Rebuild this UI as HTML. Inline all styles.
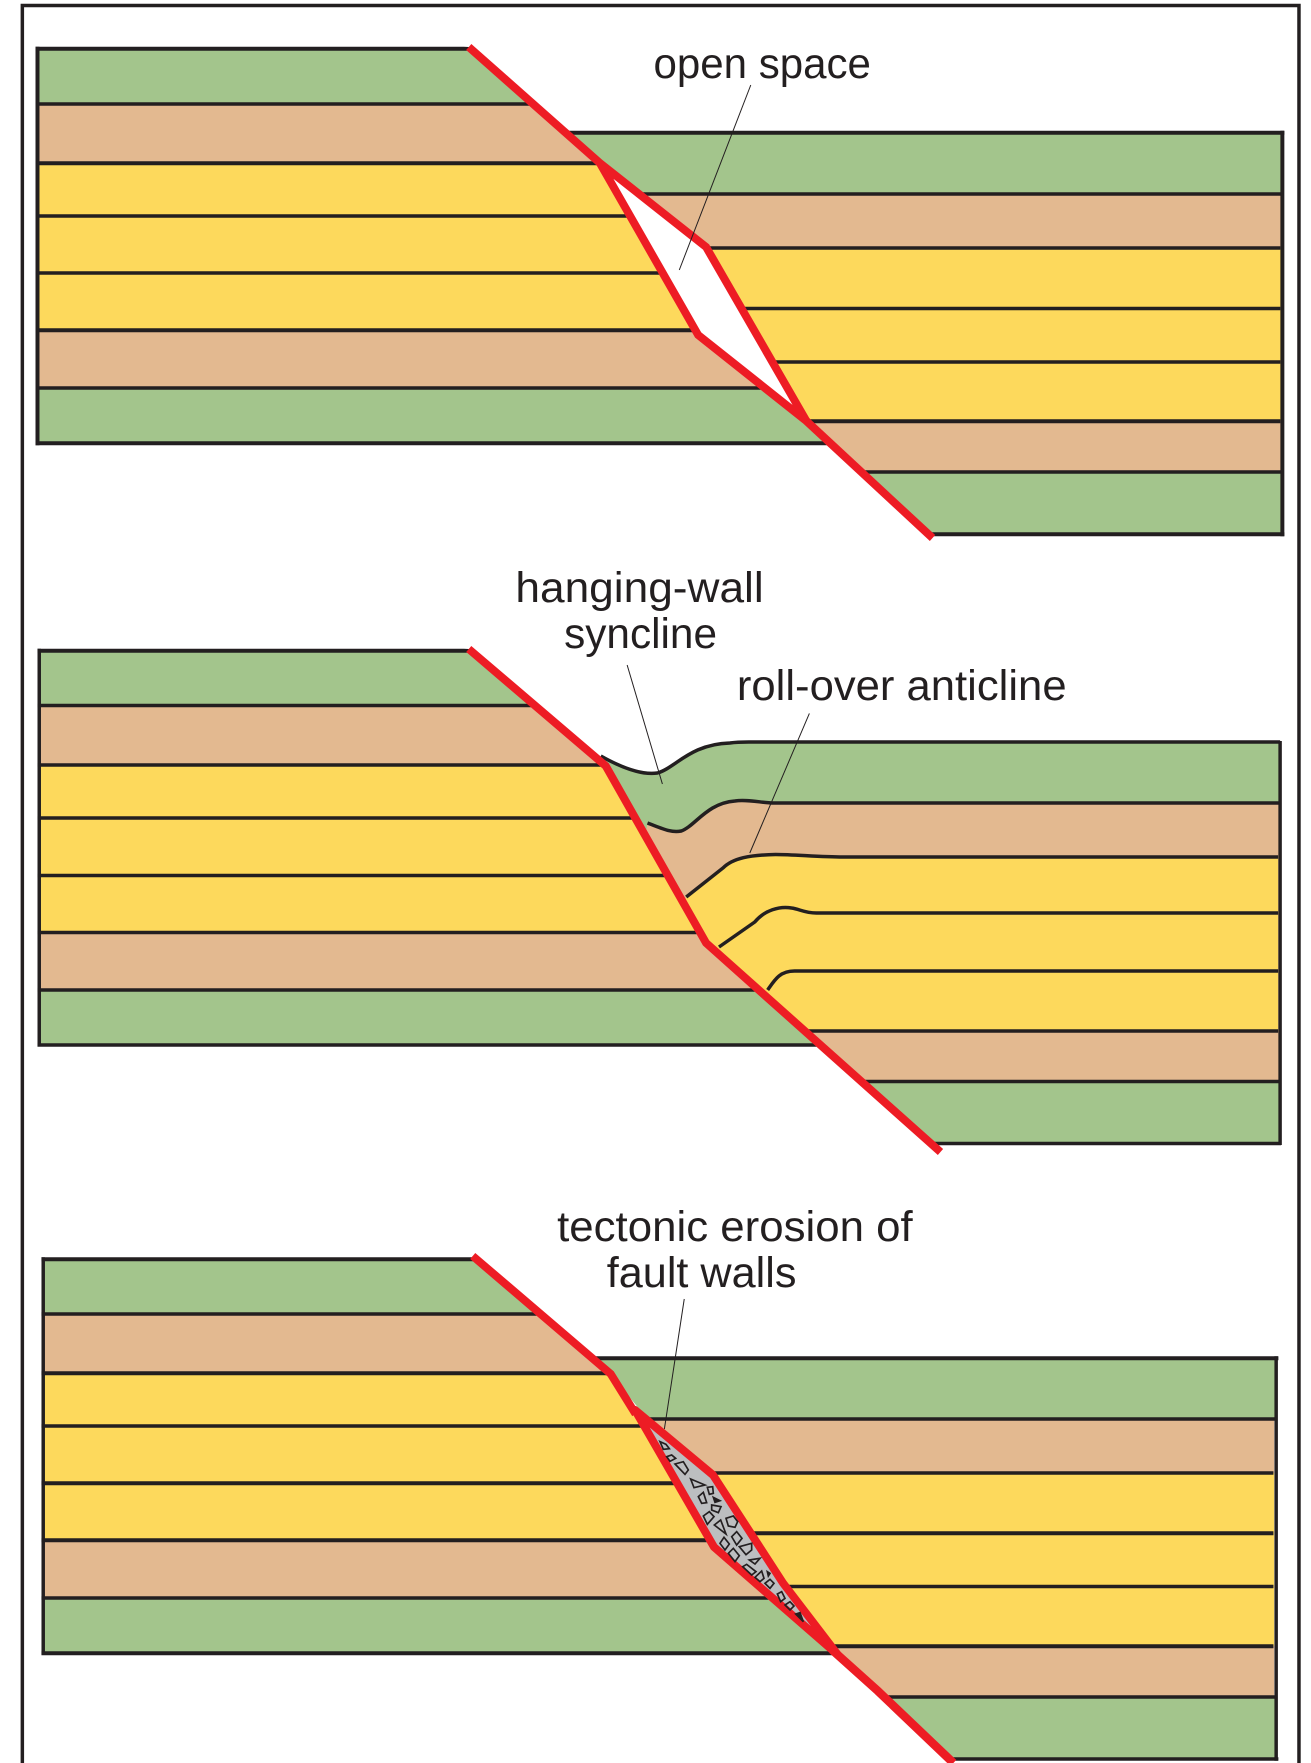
<!DOCTYPE html>
<html>
<head>
<meta charset="utf-8">
<style>
html,body{margin:0;padding:0;background:#fff}
svg{display:block}
text{font-family:"Liberation Sans",sans-serif;font-size:43px;fill:#231F20}
</style>
</head>
<body>
<svg width="1311" height="1763" viewBox="0 0 1311 1763" xmlns="http://www.w3.org/2000/svg">
<defs>
<clipPath id="l1"><polygon points="0,0 472,47 604,163 703,335 812,421 939,538 0,600"/></clipPath>
<clipPath id="r1"><polygon points="472,47 604,163 711,247 812,421 939,538 1311,538 1311,0"/></clipPath>
<clipPath id="l2"><polygon points="0,600 472,649 610,766 711,943 947,1153 0,1160"/></clipPath>
<clipPath id="r2"><polygon points="472,649 610,766 711,943 947,1153 1311,1153 1311,600"/></clipPath>
<clipPath id="l3"><polygon points="0,1200 476,1256 615,1374 639,1410 719,1547 839,1650 960,1762 0,1763"/></clipPath>
<clipPath id="r3"><polygon points="476,1256 615,1374 642,1407 718,1475 788,1583 840,1650 884,1691 960,1763 1311,1763 1311,1200"/></clipPath>
</defs>

<g transform="scale(.9931,1)">
<!-- frame -->
<path d="M22.500,1763V5.500H1308V1763" fill="none" stroke="#231F20" stroke-width="3.500"/>

<!-- PANEL 1 -->
<g clip-path="url(#l1)">
<rect x="38" y="49" width="900" height="55" fill="#A3C58C"/>
<rect x="38" y="104" width="900" height="59" fill="#E3B990"/>
<rect x="38" y="163" width="900" height="167" fill="#FDD95C"/>
<rect x="38" y="330" width="900" height="58" fill="#E3B990"/>
<rect x="38" y="388" width="900" height="55" fill="#A3C58C"/>
<g fill="#231F20" stroke="#231F20" stroke-width=".5">
<rect x="36" y="47" width="900" height="3.500"/>
<rect x="36" y="102.500" width="900" height="3"/>
<rect x="36" y="161.500" width="900" height="3.500"/>
<rect x="36" y="214.500" width="900" height="3"/>
<rect x="36" y="271.500" width="900" height="3"/>
<rect x="36" y="328.500" width="900" height="3.500"/>
<rect x="36" y="386.500" width="900" height="3"/>
<rect x="36" y="441.500" width="900" height="3.500"/>
<rect x="36" y="47" width="3.500" height="398"/>
</g>
</g>
<g clip-path="url(#r1)">
<rect x="500" y="133" width="791" height="61" fill="#A3C58C"/>
<rect x="500" y="194" width="791" height="54" fill="#E3B990"/>
<rect x="500" y="248" width="791" height="173" fill="#FDD95C"/>
<rect x="500" y="421" width="791" height="51" fill="#E3B990"/>
<rect x="500" y="472" width="791" height="62" fill="#A3C58C"/>
<g fill="#231F20" stroke="#231F20" stroke-width=".5">
<rect x="500" y="131" width="793" height="3.500"/>
<rect x="500" y="192.500" width="791" height="3"/>
<rect x="500" y="246.500" width="789" height="3"/>
<rect x="500" y="307" width="789" height="3"/>
<rect x="500" y="360.500" width="789" height="3"/>
<rect x="500" y="419.500" width="789" height="3.500"/>
<rect x="500" y="470.500" width="791" height="3"/>
<rect x="500" y="532.500" width="793" height="3.500"/>
<rect x="1289.500" y="131" width="3.500" height="405"/>
</g>
</g>
<polygon points="604,163 711,247 812,421 703,335" fill="#fff" stroke="#ED1C24" stroke-width="8" stroke-linejoin="miter"/>
<polyline points="472,47 604,163" fill="none" stroke="#ED1C24" stroke-width="8"/>
<polyline points="812,421 939,538" fill="none" stroke="#ED1C24" stroke-width="8"/>
<line x1="756" y1="85" x2="684" y2="270" stroke="#231F20" stroke-width="1"/>
<text x="658" y="78" textLength="219" lengthAdjust="spacingAndGlyphs">open space</text>

<!-- PANEL 2 -->
<g clip-path="url(#l2)">
<rect x="39" y="651" width="900" height="55" fill="#A3C58C"/>
<rect x="39" y="706" width="900" height="59" fill="#E3B990"/>
<rect x="39" y="765" width="900" height="168" fill="#FDD95C"/>
<rect x="39" y="933" width="900" height="57" fill="#E3B990"/>
<rect x="39" y="990" width="900" height="55" fill="#A3C58C"/>
<g fill="#231F20" stroke="#231F20" stroke-width=".5">
<rect x="38" y="649" width="900" height="3.500"/>
<rect x="38" y="704" width="900" height="3"/>
<rect x="38" y="763.500" width="900" height="3"/>
<rect x="38" y="816.500" width="900" height="3"/>
<rect x="38" y="874" width="900" height="3"/>
<rect x="38" y="931" width="900" height="3"/>
<rect x="38" y="988.500" width="900" height="3"/>
<rect x="38" y="1043.500" width="900" height="3"/>
<rect x="38" y="649" width="3" height="397"/>
</g>
</g>
<g clip-path="url(#r2)">
<path d="M605,756 C630,770 648,775 662,773 C680,768 695,744 735,743 C742,742 748,742 754,742 L1289,742 V1143 H600Z" fill="#A3C58C"/>
<path d="M652,823 C668,829 676,833 686,831 C700,826 712,803 740,801 C752,799 768,803 779,803 L1289,803 V1143 H600 Z" fill="#E3B990"/>
<path d="M691,897 L728,868 C738,858 755,855 781,854.500 C800,854.500 825,857 849,857 L1287,857 V1143 H640 Z" fill="#FDD95C"/>
<rect x="740" y="1031" width="549" height="112" fill="#E3B990"/>
<rect x="740" y="1081.500" width="549" height="62" fill="#A3C58C"/>
<g fill="none" stroke="#231F20" stroke-width="3.500">
<path d="M605,756 C630,770 648,775 662,773 C680,768 695,744 735,743 C742,742 748,742 754,742 L1289,742"/>
<path d="M652,823 C668,829 676,833 686,831 C700,826 712,803 740,801 C752,799 768,803 779,803 L1289,803"/>
<path d="M691,897 L728,868 C738,858 755,855 781,854.500 C800,854.500 825,857 849,857 L1287,857"/>
<path d="M724,947 L760,922 C770,910 785,906 797,908 C805,909 810,913 822,913 L1287,913"/>
<path d="M773,990 C780,980 785,971 800,971 L1287,971"/>
<path d="M810,1031 H1287"/>
<path d="M870,1081.500 H1289"/>
<path d="M940,1143.500 H1290"/>
<path d="M1289,741 V1145"/>
</g>
</g>
<polyline points="472,649 610,766 711,943 947,1152" fill="none" stroke="#ED1C24" stroke-width="8" stroke-linejoin="miter"/>
<line x1="631.500" y1="665" x2="667" y2="784" stroke="#231F20" stroke-width="1"/>
<line x1="815" y1="713.400" x2="755" y2="853" stroke="#231F20" stroke-width="1"/>
<text x="519" y="602" textLength="250" lengthAdjust="spacingAndGlyphs">hanging-wall</text>
<text x="568" y="648" textLength="154" lengthAdjust="spacingAndGlyphs">syncline</text>
<text x="742" y="700" textLength="332" lengthAdjust="spacingAndGlyphs">roll-over anticline</text>

<!-- PANEL 3 -->
<g clip-path="url(#l3)">
<rect x="43" y="1259" width="900" height="55" fill="#A3C58C"/>
<rect x="43" y="1314" width="900" height="59" fill="#E3B990"/>
<rect x="43" y="1373" width="900" height="167" fill="#FDD95C"/>
<rect x="43" y="1540" width="900" height="58" fill="#E3B990"/>
<rect x="43" y="1598" width="900" height="55" fill="#A3C58C"/>
<g fill="#231F20" stroke="#231F20" stroke-width=".5">
<rect x="42" y="1257.500" width="900" height="3.500"/>
<rect x="42" y="1312.500" width="900" height="3"/>
<rect x="42" y="1371.500" width="900" height="3.500"/>
<rect x="42" y="1424.500" width="900" height="3"/>
<rect x="42" y="1481.500" width="900" height="3.500"/>
<rect x="42" y="1538.500" width="900" height="3.500"/>
<rect x="42" y="1596.500" width="900" height="3"/>
<rect x="42" y="1651.500" width="900" height="3.500"/>
<rect x="42" y="1257.500" width="3" height="397"/>
</g>
</g>
<g clip-path="url(#r3)">
<rect x="500" y="1358" width="785" height="61" fill="#A3C58C"/>
<rect x="500" y="1419" width="783" height="54" fill="#E3B990"/>
<rect x="500" y="1473" width="783" height="173" fill="#FDD95C"/>
<rect x="500" y="1646" width="783" height="51" fill="#E3B990"/>
<rect x="500" y="1697" width="785" height="63" fill="#A3C58C"/>
<g fill="#231F20" stroke="#231F20" stroke-width=".5">
<rect x="500" y="1356.500" width="787" height="3.500"/>
<rect x="500" y="1417.500" width="785" height="3"/>
<rect x="500" y="1471.500" width="782" height="3"/>
<rect x="500" y="1531.500" width="782" height="3.500"/>
<rect x="500" y="1585" width="782" height="3"/>
<rect x="500" y="1644.500" width="782" height="3.500"/>
<rect x="500" y="1695.500" width="785" height="3"/>
<rect x="500" y="1757.500" width="787" height="3"/>
<rect x="1283.500" y="1356.500" width="3" height="404"/>
</g>
</g>
<polyline points="476,1256 615,1374 640,1414" fill="none" stroke="#ED1C24" stroke-width="8"/>
<polyline points="838,1650 884,1691 960,1763" fill="none" stroke="#ED1C24" stroke-width="8.500"/>
<line x1="689" y1="1299" x2="669" y2="1429" stroke="#231F20" stroke-width="1"/>
<text x="561" y="1241" textLength="358" lengthAdjust="spacingAndGlyphs">tectonic erosion of</text>
<text x="611" y="1287" textLength="191" lengthAdjust="spacingAndGlyphs">fault walls</text>
</g>

<!-- fault-rock lens: true pixel coordinates -->
<polygon points="635,1410 713,1475 783,1583 838,1655 714,1547" fill="#BCBEC0" stroke="#ED1C24" stroke-width="8" stroke-linejoin="round"/>
<g transform="translate(620,1390) scale(.33333)" fill="none" stroke="#231F20" stroke-width="5" stroke-linejoin="miter">
<polygon points="120,155 138,163 148,176 130,178"/>
<polygon points="140,200 155,195 167,205 150,214"/>
<polygon points="165,222 190,215 205,240 195,253"/>
<polygon points="212,267 255,285 222,293"/>
<polygon points="262,292 278,290 280,310 268,313"/>
<polygon points="235,320 250,307 260,338 245,340"/>
<polygon points="280,322 300,332 285,337" fill="#231F20"/>
<polygon points="275,345 303,350 295,368 275,360"/>
<polygon points="250,378 268,365 282,380 262,403"/>
<polygon points="283,405 302,390 318,432"/>
<polygon points="318,385 340,378 353,395 345,412 325,408"/>
<polygon points="335,440 350,425 366,445 350,465"/>
<polygon points="300,460 312,442 328,462 315,480"/>
<polygon points="325,490 340,475 358,497 345,515"/>
<polygon points="358,470 395,460 395,480 378,494"/>
<polygon points="388,510 420,505 405,522"/>
<polygon points="368,530 380,523 408,545 395,555"/>
<polygon points="405,562 425,543 432,565 420,575"/>
<polygon points="442,545 450,550 445,558" fill="#231F20"/>
<polygon points="435,580 450,568 462,580 450,595"/>
<polygon points="472,612 485,605 495,625 482,635"/>
<polygon points="495,645 510,635 522,648 510,660"/>
<polygon points="527,672 540,668 550,695" fill="#231F20"/>
</g>
</svg>
</body>
</html>
